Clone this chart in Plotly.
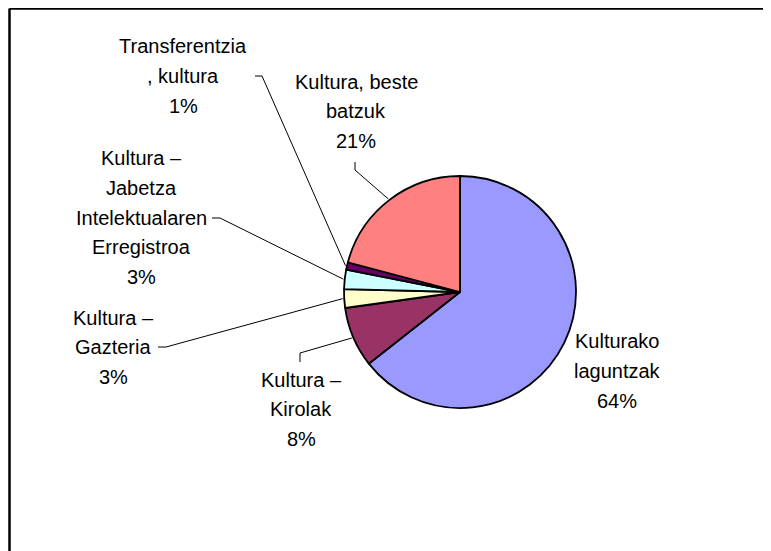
import math
import plotly.graph_objects as go

# ---------------- data ----------------
categories = [
    "Kulturako laguntzak",
    "Kultura – Kirolak",
    "Kultura – Gazteria",
    "Kultura – Jabetza Intelektualaren Erregistroa",
    "Transferentzia, kultura",
    "Kultura, beste batzuk",
]
values = [64.4, 8.4, 2.6, 2.7, 1.0, 20.9]
label_lines = [
    ["Kulturako", "laguntzak"],
    ["Kultura –", "Kirolak"],
    ["Kultura –", "Gazteria"],
    ["Kultura –", "Jabetza", "Intelektualaren", "Erregistroa"],
    ["Transferentzia", ", kultura"],
    ["Kultura, beste", "batzuk"],
]
colors = ["#9999FF", "#993366", "#FFFFCC", "#CCFFFF", "#660066", "#FF8080"]

# ---------------- layout constants (page pixels) ----------------
OFF = 8                      # page body margin
W, H = 771 - OFF, 551 - OFF  # figure size
CX, CY, R = 460, 292, 116
FONT = "Liberation Sans, Arial, sans-serif"
FS = 20
LINE_H = 29.8
label_pos = [(617, 341), (301, 379.5), (113, 317.5), (141, 158), (183, 46), (356, 81.5)]
elbows = [
    None,
    [(300, 362), (300, 353)],
    [(158, 347), (166, 347)],
    [(212, 218), (220, 218)],
    [(255, 76), (262, 76)],
    [(355, 162), (355, 170)],
]


def px(x):
    return (x - OFF) / W


def py(y):
    return 1 - (y - OFF) / H


total = sum(values)
pct = [f"{round(v / total * 100)}%" for v in values]

fig = go.Figure()
fig.add_trace(go.Pie(
    values=values,
    labels=categories,
    marker=dict(colors=colors, line=dict(color="black", width=1.8)),
    sort=False,
    direction="clockwise",
    rotation=0,
    textinfo="none",
    hoverinfo="label+percent",
    showlegend=False,
    domain=dict(x=[px(CX - R), px(CX + R)], y=[py(CY + R), py(CY - R)]),
))

annotations = []
for lines, p, (lx, ly) in zip(label_lines, pct, label_pos):
    for i, t in enumerate(lines + [p]):
        annotations.append(dict(
            x=px(lx), y=py(ly + i * LINE_H), xref="paper", yref="paper",
            text=t, showarrow=False, xanchor="center", yanchor="middle",
            font=dict(family=FONT, size=FS, color="black"),
        ))

shapes = []
cum = 0.0
for v, el in zip(values, elbows):
    mid = (cum + v / 2) / total * 2 * math.pi
    cum += v
    if el is None:
        continue
    ex = CX + (R + 1.5) * math.sin(mid)
    ey = CY - (R + 1.5) * math.cos(mid)
    (x0, y0), (x1, y1) = el
    path = f"M {px(x0)},{py(y0)} L {px(x1)},{py(y1)} L {px(ex)},{py(ey)}"
    shapes.append(dict(type="path", path=path, xref="paper", yref="paper",
                       line=dict(color="black", width=1)))

# chart frame (top and left edges visible)
shapes.append(dict(type="line", xref="paper", yref="paper",
                   x0=px(9.5), y0=py(8.5), x1=px(W + OFF + 5), y1=py(8.5),
                   line=dict(color="black", width=2.5)))
shapes.append(dict(type="line", xref="paper", yref="paper",
                   x0=px(9.5), y0=py(8.5), x1=px(9.5), y1=py(H + OFF + 5),
                   line=dict(color="black", width=2.5)))

fig.update_layout(
    width=W, height=H,
    margin=dict(l=0, r=0, t=0, b=0),
    paper_bgcolor="white", plot_bgcolor="white",
    annotations=annotations, shapes=shapes,
    font=dict(family=FONT, size=FS, color="black"),
)

fig.write_html("out.html")
